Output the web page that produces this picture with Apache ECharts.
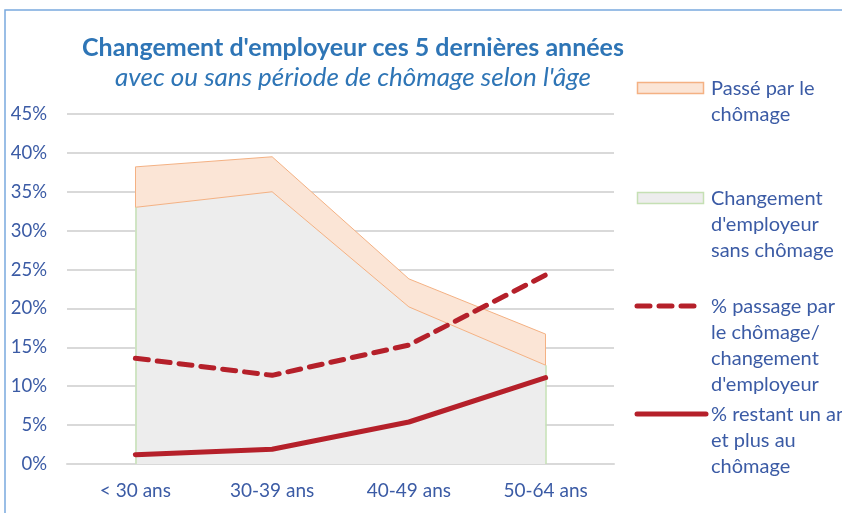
<!DOCTYPE html>
<html>
<head>
<meta charset="utf-8">
<script src="https://cdn.jsdelivr.net/npm/echarts@6/dist/echarts.min.js"></script>
<style>
  html, body { margin: 0; padding: 0; background: #ffffff; }
  #chart { width: 842px; height: 513px; }
</style>
</head>
<body>
<div id="chart"></div>
<script>
// Age groups on the horizontal axis
const categories = ['< 30 ans', '30-39 ans', '40-49 ans', '50-64 ans'];
// Share (%) changing employer without going through unemployment
const sansChomage = [33.0, 35.0, 20.2, 12.7];
// Share (%) changing employer after a period of unemployment (stacked above)
const parChomage = [5.2, 4.5, 3.6, 4.0];
// % of employer changes that went through unemployment
const passageChomage = [13.6, 11.4, 15.3, 24.3];
// % staying unemployed one year or more
const restantChomage = [1.2, 1.9, 5.4, 11.1];
// Value axis ticks
const yTicks = { min: 0, max: 45, step: 5 };

const blueText = '#3b5ba5';
const titleBlue = '#2e75b6';
const font = 'Lato';
const red = '#b5202a';
const orangeLine = '#f4b183';
const orangeFill = '#fbe5d6';
const greyFill = '#ededed';
const greenLine = '#c5e0b4';

const last = categories.length - 1;
const totals = sansChomage.map((v, i) => v + parChomage[i]);

const chart = echarts.init(document.getElementById('chart'), null, { renderer: 'canvas' });

function legendText(x, y, lines) {
  return lines.map((t, i) => ({
    type: 'text', left: x, top: y + i * 26 - 9,
    style: { text: t, fill: blueText, font: '20px ' + font }
  }));
}

chart.setOption({
  animation: false,
  backgroundColor: '#ffffff',
  title: [
    {
      text: "Changement d'employeur ces 5 dernières années",
      left: 348, top: 30, textAlign: 'center',
      textStyle: { color: titleBlue, fontFamily: font, fontWeight: 'bold', fontSize: 25 }
    },
    {
      text: "avec ou sans période de chômage selon l'âge",
      left: 348, top: 60, textAlign: 'center',
      textStyle: { color: titleBlue, fontFamily: font, fontStyle: 'italic', fontWeight: 'normal', fontSize: 26 }
    }
  ],
  grid: { left: 67, right: 228, top: 114, bottom: 49 },
  xAxis: {
    type: 'category',
    data: categories,
    boundaryGap: true,
    axisLine: { show: true, lineStyle: { color: '#d9d9d9', width: 2 } },
    axisTick: { show: false },
    axisLabel: { color: blueText, fontFamily: font, fontSize: 19, margin: 17 }
  },
  yAxis: {
    type: 'value',
    min: yTicks.min, max: yTicks.max, interval: yTicks.step,
    axisLine: { show: false },
    axisTick: { show: false },
    splitLine: { lineStyle: { color: '#d9d9d9', width: 2 } },
    axisLabel: { color: blueText, fontFamily: font, fontSize: 18.5, margin: 20, formatter: '{value}%' }
  },
  series: [
    {
      name: "Changement d'employeur sans chômage",
      type: 'line', stack: 'total',
      data: sansChomage,
      showSymbol: false,
      lineStyle: { color: orangeLine, width: 1 },
      areaStyle: { color: greyFill, opacity: 1 },
      markLine: {
        silent: true, symbol: 'none', label: { show: false },
        lineStyle: { color: greenLine, width: 1.5, type: 'solid' },
        data: [
          [{ coord: [0, 0] }, { coord: [0, sansChomage[0]] }],
          [{ coord: [last, 0] }, { coord: [last, sansChomage[last]] }]
        ]
      }
    },
    {
      name: 'Passé par le chômage',
      type: 'line', stack: 'total',
      data: parChomage,
      showSymbol: false,
      lineStyle: { color: orangeLine, width: 1 },
      areaStyle: { color: orangeFill, opacity: 1 },
      markLine: {
        silent: true, symbol: 'none', label: { show: false },
        lineStyle: { color: orangeLine, width: 1, type: 'solid' },
        data: [
          [{ coord: [0, sansChomage[0]] }, { coord: [0, totals[0]] }],
          [{ coord: [last, sansChomage[last]] }, { coord: [last, totals[last]] }]
        ]
      }
    },
    {
      name: '% passage par le chômage/ changement d\'employeur',
      type: 'line',
      data: passageChomage,
      showSymbol: false,
      lineStyle: { color: red, width: 5, type: [13, 9], cap: 'round' },
      z: 5
    },
    {
      name: '% restant un an et plus au chômage',
      type: 'line',
      data: restantChomage,
      showSymbol: false,
      lineStyle: { color: red, width: 5, cap: 'round' },
      z: 5
    }
  ],
  graphic: [
    // chart frame
    {
      type: 'rect', shape: { x: 5, y: 10, width: 860, height: 520 },
      style: { fill: 'none', stroke: '#7aa9de', lineWidth: 1.5 }, silent: true
    },
    // legend: "Passé par le chômage"
    {
      type: 'rect', shape: { x: 637.5, y: 82.5, width: 66, height: 11 },
      style: { fill: orangeFill, stroke: orangeLine, lineWidth: 1.5 }
    },
    ...legendText(711, 88, ['Passé par le', 'chômage']),
    // legend: "Changement d'employeur sans chômage"
    {
      type: 'rect', shape: { x: 637.5, y: 192.5, width: 66, height: 11 },
      style: { fill: greyFill, stroke: greenLine, lineWidth: 1.5 }
    },
    ...legendText(711, 198, ['Changement', "d'employeur", 'sans chômage']),
    // legend: dashed ratio line
    {
      type: 'line', shape: { x1: 637, y1: 306, x2: 697, y2: 306 },
      style: { stroke: red, lineWidth: 5, lineDash: [13, 9], lineCap: 'round' }
    },
    ...legendText(711, 306, ['% passage par', 'le chômage/', 'changement', "d'employeur"]),
    // legend: solid long-term unemployment line
    {
      type: 'line', shape: { x1: 637, y1: 414, x2: 706, y2: 414 },
      style: { stroke: red, lineWidth: 5, lineCap: 'round' }
    },
    ...legendText(711, 414, ['% restant un an', 'et plus au', 'chômage'])
  ]
});
</script>
</body>
</html>
